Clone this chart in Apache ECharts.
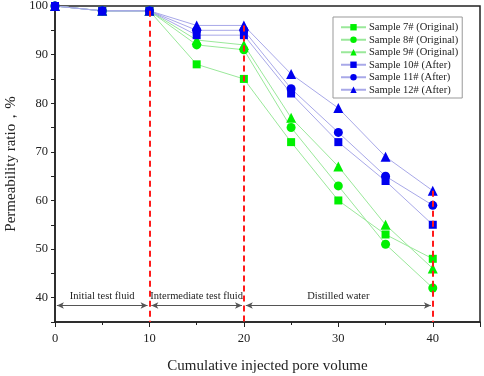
<!DOCTYPE html>
<html>
<head>
<meta charset="utf-8">
<script src="https://cdn.jsdelivr.net/npm/echarts@6/dist/echarts.min.js"></script>
<style>
  html, body { margin: 0; padding: 0; background: #fff; }
  #chart { width: 484px; height: 376px; }
</style>
</head>
<body>
<div id="chart"></div>
<script>
// 数据
var porevolume = [0, 5, 10, 15, 20, 25, 30, 35, 40];
var sample7 = [100, 99, 99, 88, 85, 72, 60, 53, 48];
var sample8 = [100, 99, 99, 92, 91, 75, 63, 51, 42];
var sample9 = [100, 99, 99, 93, 92, 77, 67, 55, 46];
var sample10 = [100, 99, 99, 94, 94, 82, 72, 64, 55];
var sample11 = [100, 99, 99, 95, 95, 83, 74, 65, 59];
var sample12 = [100, 99, 99, 96, 96, 86, 79, 69, 62];
var stageNames = ['Initial test fluid', 'Intermediate test fluid', 'Distilled water'];
var stageBounds = [[0, 10], [10, 20], [20, 40]];
var dividers = [[10, 99], [20, 96], [40, 62]];

var font = 'Liberation Serif';

function pairs(ys) {
    return porevolume.map(function (x, i) { return [x, ys[i]]; });
}

function makeSeries(name, ys, symbol, size, color, lineColor) {
    return {
        name: name,
        type: 'line',
        data: pairs(ys),
        symbol: symbol,
        symbolSize: size,
        itemStyle: { color: color },
        lineStyle: { color: lineColor, width: 1 },
        z: 3
    };
}

var green = '#00f000', greenLine = '#9ae89a';
var blue = '#0000ee', blueLine = '#a8a8e8';

var series = [
    makeSeries('Sample 7# (Original)', sample7, 'rect', 8, green, greenLine),
    makeSeries('Sample 8# (Original)', sample8, 'circle', 9, green, greenLine),
    makeSeries('Sample 9# (Original)', sample9, 'triangle', 10, green, greenLine),
    makeSeries('Sample 10# (After)', sample10, 'rect', 8, blue, blueLine),
    makeSeries('Sample 11# (After)', sample11, 'circle', 9, blue, blueLine),
    makeSeries('Sample 12# (After)', sample12, 'triangle', 10, blue, blueLine)
];

// 红色虚线 + 阶段箭头
series.push({
    name: 'marks',
    type: 'line',
    data: [],
    z: 5,
    markLine: {
        silent: true,
        animation: false,
        data: dividers.map(function (d) {
            return [
                { coord: d, symbol: 'none', lineStyle: { color: '#ff1a1a', width: 2, type: [6, 4] } },
                { coord: [d[0], 35], symbol: 'none' }
            ];
        }).concat(stageBounds.map(function (b, i) {
            return [
                {
                    coord: [b[0] + 0.2, 38.4],
                    lineStyle: { color: '#555', width: 1, type: 'solid' },
                    label: {
                        show: true,
                        formatter: stageNames[i],
                        position: 'insideMiddleTop',
                        distance: 4,
                        color: '#222',
                        fontFamily: font,
                        fontSize: 10.5
                    }
                },
                { coord: [b[1] - 0.2, 38.4] }
            ];
        })),
        symbol: ['arrow', 'arrow'],
        symbolSize: [5, 7],
        label: { show: false }
    }
});

var myChart = echarts.init(document.getElementById('chart'));
myChart.setOption({
    animation: false,
    grid: {
        left: 55,
        right: 4,
        top: 6,
        bottom: 54,
        containLabel: false,
        outerBoundsMode: 'none',
        show: true,
        borderColor: '#222',
        borderWidth: 1.5
    },
    legend: {
        data: series.slice(0, 6).map(function (s) { return s.name; }),
        orient: 'vertical',
        left: 333,
        top: 17,
        itemWidth: 25,
        itemHeight: 8,
        itemGap: 0,
        padding: [4, 4, 2, 7],
        borderColor: '#999',
        borderWidth: 1,
        backgroundColor: '#fff',
        textStyle: {
            fontFamily: font, fontSize: 10.5, lineHeight: 12.5, color: '#222',
            padding: [0, 0, 0, -2]
        }
    },
    xAxis: {
        type: 'value',
        min: 0,
        max: 45,
        interval: 10,
        name: 'Cumulative injected pore volume',
        nameLocation: 'middle',
        nameGap: 37,
        nameTextStyle: { fontFamily: font, fontSize: 15, color: '#222' },
        axisLine: { lineStyle: { color: '#222', width: 1.5 } },
        axisTick: { inside: false, length: 5, lineStyle: { color: '#222' } },
        minorTick: { show: true, splitNumber: 2, length: 3, lineStyle: { color: '#222' } },
        axisLabel: {
            fontFamily: font, fontSize: 12.5, color: '#222', margin: 10,
            formatter: function (v) { return v <= 40 ? v : ''; }
        },
        splitLine: { show: false }
    },
    yAxis: {
        type: 'value',
        min: 35,
        max: 100,
        interval: 5,
        name: 'Permeability ratio，%',
        nameLocation: 'middle',
        nameGap: 29,
        nameTextStyle: { fontFamily: font, fontSize: 15, color: '#222' },
        axisLine: { lineStyle: { color: '#222', width: 1.5 } },
        axisTick: { length: 4, lineStyle: { color: '#222' } },
        axisLabel: {
            fontFamily: font, fontSize: 12.5, color: '#222', margin: 7,
            formatter: function (v) { return v % 10 === 0 ? v : ''; }
        },
        splitLine: { show: false }
    },
    series: series
});
</script>
</body>
</html>
